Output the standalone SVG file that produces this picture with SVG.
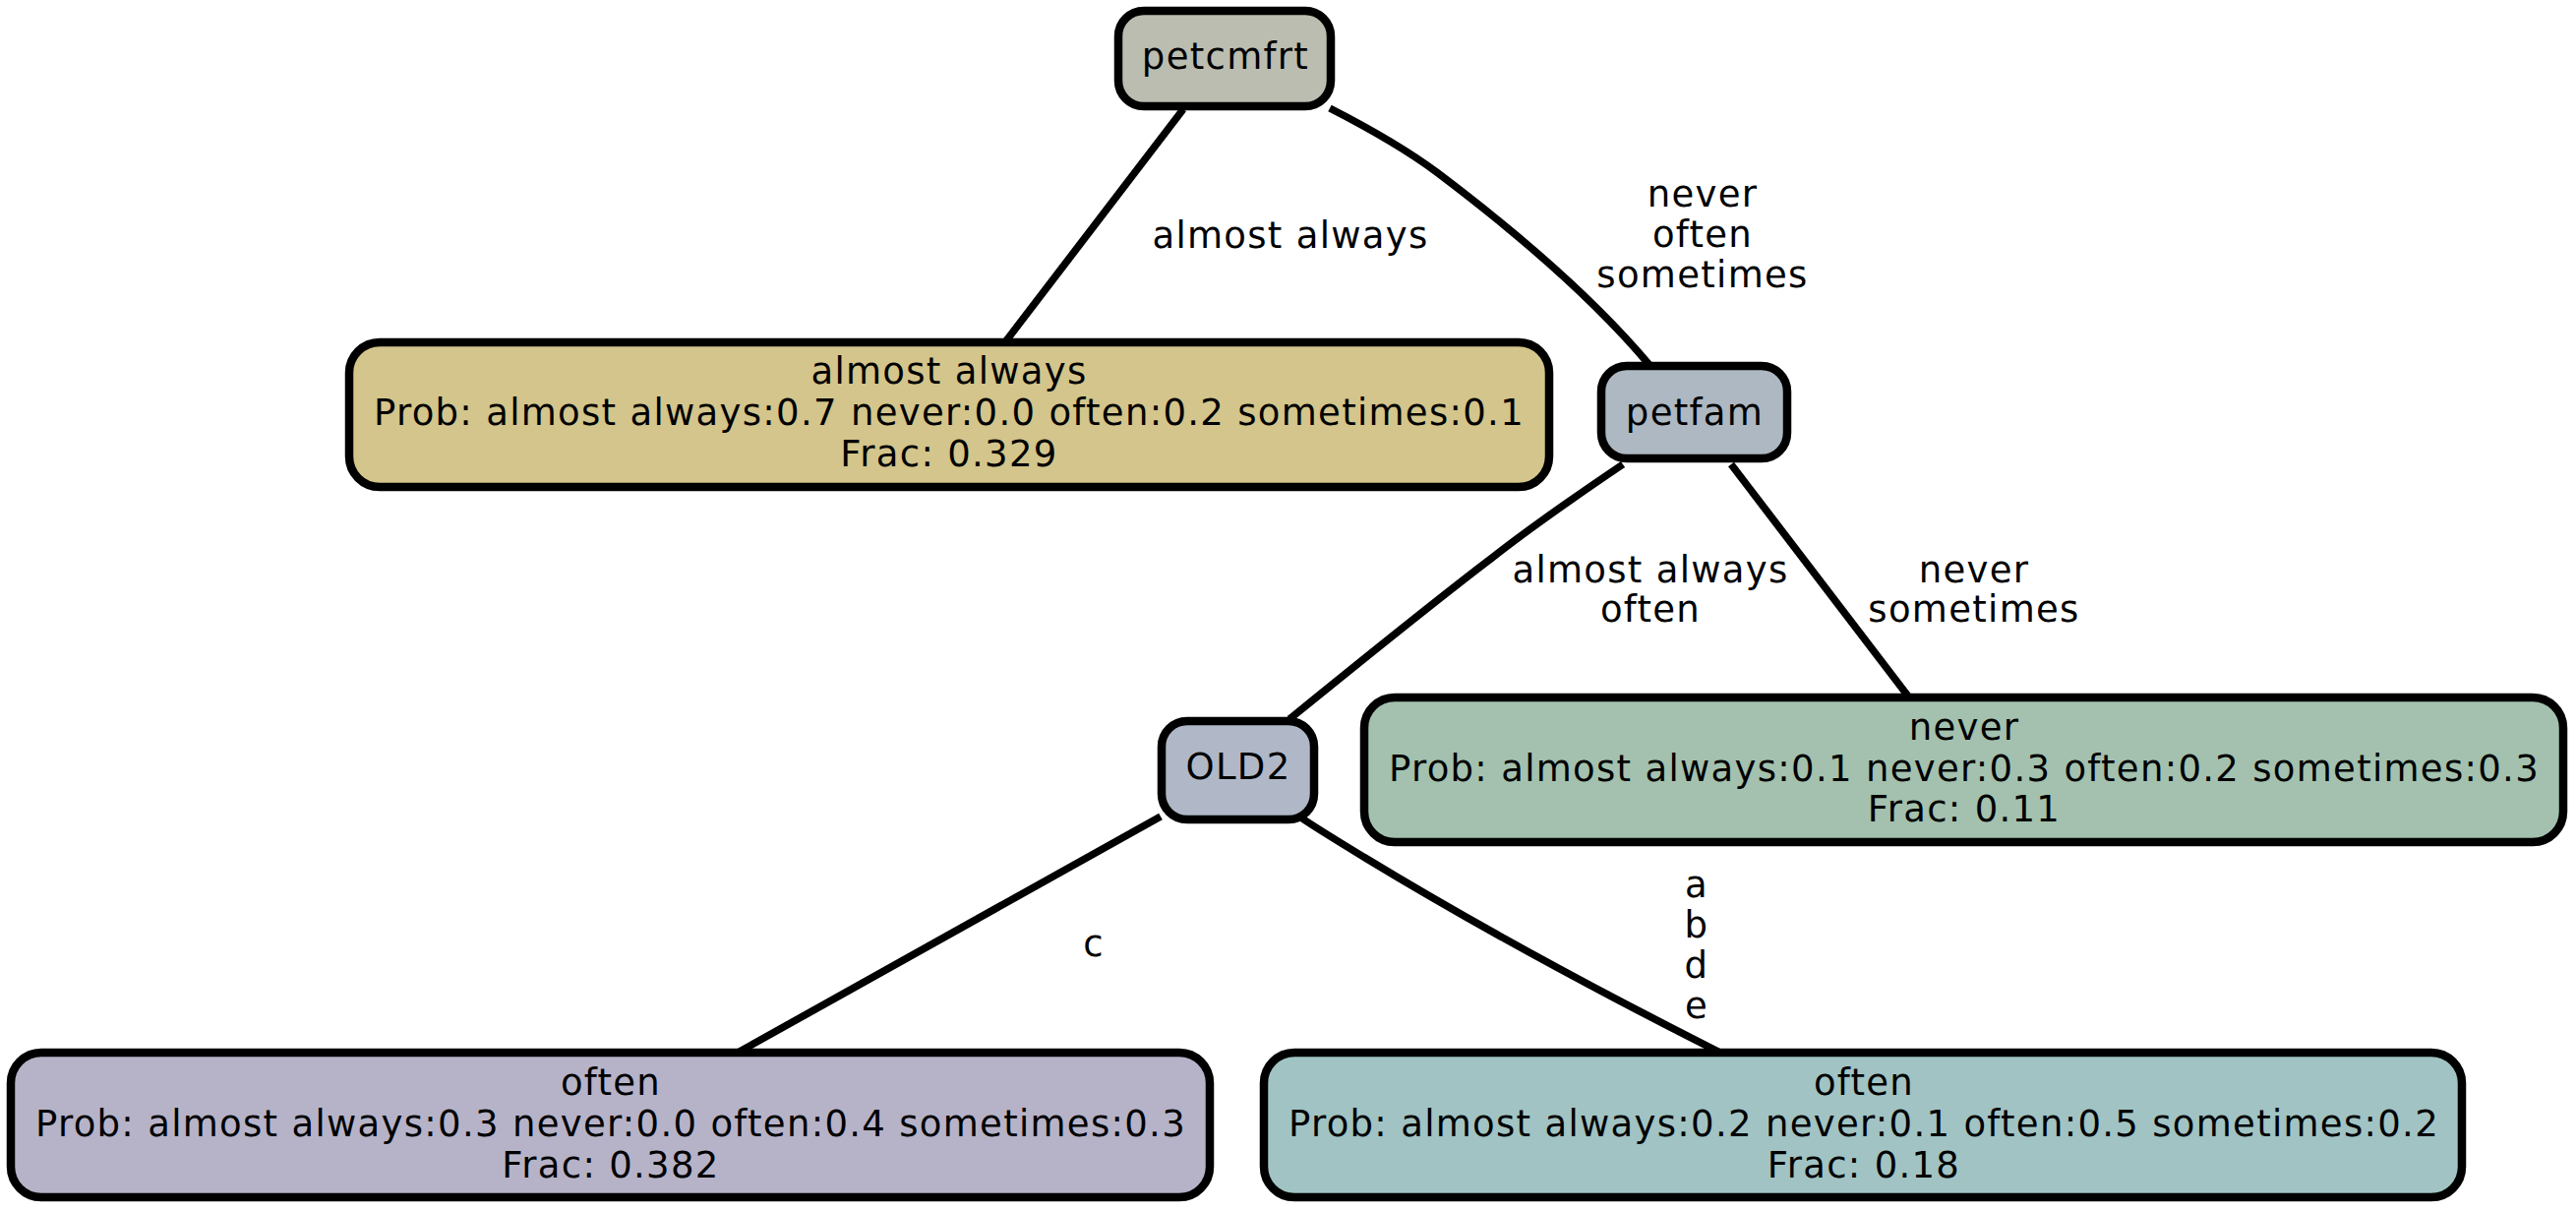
<svg xmlns="http://www.w3.org/2000/svg" width="2619" height="1231" viewBox="0 0 2619 1231">
<style>
text{font-family:"DejaVu Sans","Liberation Sans",sans-serif;font-size:37px;letter-spacing:1.3px;fill:#000;text-anchor:middle}
.n{stroke:#000;stroke-width:8.5}
.e{fill:none;stroke:#000;stroke-width:7.5}
</style>
<rect width="2619" height="1231" fill="#fff"/>
<g id="edges">
<path class="e" d="M1203,111 L1021,349"/>
<path class="e" d="M1352,110 C1395,132 1430,152 1462,176 C1560,250 1630,315 1677,371"/>
<path class="e" d="M1650,472 C1610,499 1564,530 1517,567 C1455,614 1380,675 1311,731"/>
<path class="e" d="M1760,472 L1941,709"/>
<path class="e" d="M1180,830 L750,1070"/>
<path class="e" d="M1324,832 C1345,846 1365,858 1388,872 C1500,940 1620,1005 1749,1070"/>
<text x="1312" y="252">almost always</text>
<text x="1731" y="210">never</text>
<text x="1731" y="251">often</text>
<text x="1731" y="292">sometimes</text>
<text x="1678" y="592">almost always</text>
<text x="1678" y="632">often</text>
<text x="2007" y="592">never</text>
<text x="2007" y="632">sometimes</text>
<text x="1112" y="972">c</text>
<text x="1725" y="912">a</text>
<text x="1725" y="953">b</text>
<text x="1725" y="994">d</text>
<text x="1725" y="1035">e</text>
</g>
<g id="petcmfrt">
<rect class="n" x="1137" y="11" width="216" height="97" rx="26" fill="#bbbdb0"/>
<text x="1246" y="70">petcmfrt</text>
</g>
<g id="leaf_almost_always">
<rect class="n" x="355" y="348" width="1220" height="147" rx="31" fill="#d3c58b"/>
<text x="965" y="389.5">almost always</text>
<text x="965" y="431.5">Prob: almost always:0.7 never:0.0 often:0.2 sometimes:0.1</text>
<text x="965" y="473.5">Frac: 0.329</text>
</g>
<g id="petfam">
<rect class="n" x="1628" y="372" width="189" height="94" rx="26" fill="#adb8c2"/>
<text x="1723" y="431.5">petfam</text>
</g>
<g id="OLD2">
<rect class="n" x="1181" y="733" width="155" height="100" rx="26" fill="#b0b8c8"/>
<text x="1259" y="792">OLD2</text>
</g>
<g id="leaf_never">
<rect class="n" x="1387" y="709" width="1219" height="147" rx="31" fill="#a3c1ae"/>
<text x="1997" y="751.5">never</text>
<text x="1997" y="793.5">Prob: almost always:0.1 never:0.3 often:0.2 sometimes:0.3</text>
<text x="1997" y="834.5">Frac: 0.11</text>
</g>
<g id="leaf_often_1">
<rect class="n" x="11" y="1070" width="1219" height="147" rx="31" fill="#b6b3c8"/>
<text x="621" y="1113">often</text>
<text x="621" y="1155">Prob: almost always:0.3 never:0.0 often:0.4 sometimes:0.3</text>
<text x="621" y="1197">Frac: 0.382</text>
</g>
<g id="leaf_often_2">
<rect class="n" x="1285" y="1070" width="1218" height="147" rx="31" fill="#a1c3c3"/>
<text x="1895" y="1113">often</text>
<text x="1895" y="1155">Prob: almost always:0.2 never:0.1 often:0.5 sometimes:0.2</text>
<text x="1895" y="1197">Frac: 0.18</text>
</g>
</svg>
